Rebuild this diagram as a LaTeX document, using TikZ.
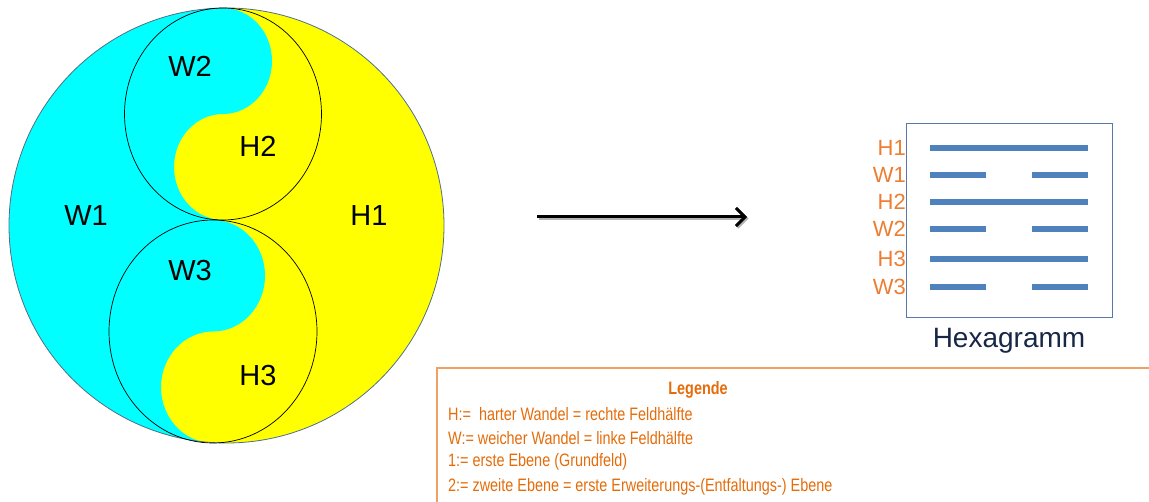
\documentclass[tikz,border=0pt]{standalone}
\usepackage{fontspec}
\setmainfont{Liberation Sans}
\newfontfamily\narrowfont[FakeStretch=0.8]{Liberation Sans}
\usetikzlibrary{arrows.meta}
\definecolor{yycyan}{RGB}{0,255,255}
\definecolor{yyyellow}{RGB}{255,255,0}
\definecolor{rimblue}{RGB}{80,110,140}
\definecolor{hexblue}{RGB}{79,129,189}
\definecolor{boxblue}{RGB}{90,120,165}
\definecolor{lblorange}{RGB}{236,125,49}
\definecolor{legorange}{RGB}{228,108,10}
\definecolor{legborder}{RGB}{240,160,96}
\definecolor{navy}{RGB}{23,40,70}
\begin{document}
\begin{tikzpicture}[x=1pt,y=-1pt,
  circlbl/.style={font=\fontsize{29}{29}\selectfont, text=black, inner sep=0pt},
  hexlbl/.style={font=\fontsize{22}{22}\selectfont, text=lblorange, inner sep=0pt, anchor=east},
  hexline/.style={draw=hexblue, line width=6pt},
  legtext/.style={font=\narrowfont\fontsize{18}{18}\selectfont, text=legorange, inner sep=0pt, anchor=west},
]
\useasboundingbox (0,0) rectangle (1149,502);
% big circle fill
\fill[yyyellow] (226.5,225.5) circle[radius=217.5];
\begin{scope}
  \clip (226.5,225.5) circle[radius=217.5];
  \fill[yycyan] (223,8)
     arc[start angle=-90, end angle=90, x radius=49, y radius=53]
     arc[start angle=-90, end angle=-270, x radius=49, y radius=53]
     -- (213,220)
     arc[start angle=-90, end angle=90, x radius=52, y radius=55.75]
     arc[start angle=-90, end angle=-270, x radius=52, y radius=55.75]
     -- (213,470) -- (-10,470) -- (-10,-10) -- (223,-10) -- cycle;
\end{scope}
\node[draw=rimblue, line width=0.8pt, circle, minimum size=435pt, inner sep=0pt] (big) at (226.5,225.5) {};
\draw[black, line width=0.7pt] (223,114) ellipse[x radius=98.5, y radius=106];
\draw[black, line width=0.7pt] (213,331.5) ellipse[x radius=104, y radius=111.5];
\node[circlbl] (w2) at (190,66) {W2};
\node[circlbl] (h2) at (258,146) {H2};
\node[circlbl] (w1) at (86,216) {W1};
\node[circlbl] (h1) at (369,216) {H1};
\node[circlbl] (w3) at (190,271) {W3};
\node[circlbl] (h3) at (258,376) {H3};
% arrow
\coordinate (as) at (537,217);
\coordinate (ae) at (747,217);
\draw[gray!60, line width=3pt, -{Straight Barb[length=9pt,width=18pt]}] ([shift={(1.5,1.5)}]as) -- ([shift={(1.5,1.5)}]ae);
\draw[black, line width=3pt, -{Straight Barb[length=9pt,width=18pt]}] (as) -- (ae);
% hexagram
\node[draw=boxblue, line width=1pt, minimum width=206pt, minimum height=194pt, inner sep=0pt] (hex) at (1009,221) {};
\foreach \y/\t/\lab in {148/1/H1,175/0/W1,202/1/H2,229/0/W2,259/1/H3,287/0/W3}{
  \ifnum\t=1
    \draw[hexline] (930,\y) -- (1088,\y);
  \else
    \draw[hexline] (930,\y) -- (986,\y);
    \draw[hexline] (1032,\y) -- (1088,\y);
  \fi
  \node[hexlbl] at (906,\y) {\lab};
}
\node[font=\fontsize{28}{28}\selectfont, text=navy, inner sep=0pt] (hexname) at (1009,341) {Hexagramm};
% legend
\draw[legborder, line width=1.5pt] (1160,368) -- (437,368) -- (437,510);
\node[font=\narrowfont\bfseries\fontsize{18}{18}\selectfont, text=legorange, inner sep=0pt] (legtitle) at (698,390) {Legende};
\node[legtext] (l1) at (448,414) {H:=\ \ harter Wandel = rechte Feldhälfte};
\node[legtext] (l2) at (448,438) {W:= weicher Wandel = linke Feldhälfte};
\node[legtext] (l3) at (448,462) {1:= erste Ebene (Grundfeld)};
\node[legtext] (l4) at (448,487) {2:= zweite Ebene = erste Erweiterungs-(Entfaltungs-) Ebene};
\end{tikzpicture}
\end{document}
